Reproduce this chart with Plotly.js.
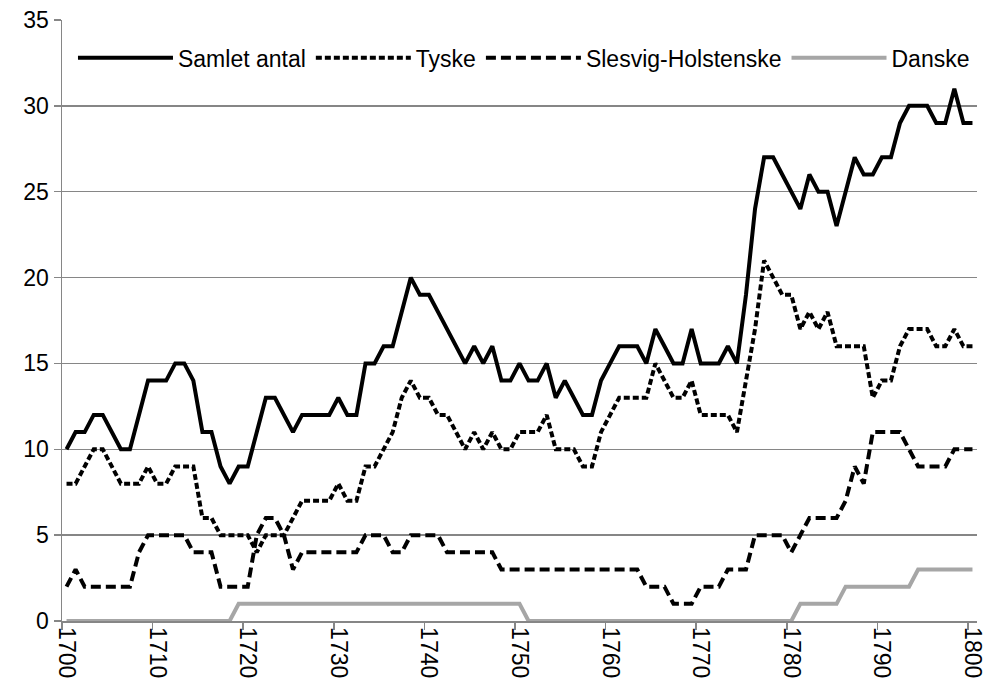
<!DOCTYPE html>
<html><head><meta charset="utf-8">
<script src="https://cdn.plot.ly/plotly-3.0.1.min.js"></script>
<style>html,body{margin:0;padding:0;background:#fff}#chart{width:988px;height:693px}</style>
</head><body><div id="chart"></div>
<script>
const years = ["1700","1701","1702","1703","1704","1705","1706","1707","1708","1709",
"1710","1711","1712","1713","1714","1715","1716","1717","1718","1719",
"1720","1721","1722","1723","1724","1725","1726","1727","1728","1729",
"1730","1731","1732","1733","1734","1735","1736","1737","1738","1739",
"1740","1741","1742","1743","1744","1745","1746","1747","1748","1749",
"1750","1751","1752","1753","1754","1755","1756","1757","1758","1759",
"1760","1761","1762","1763","1764","1765","1766","1767","1768","1769",
"1770","1771","1772","1773","1774","1775","1776","1777","1778","1779",
"1780","1781","1782","1783","1784","1785","1786","1787","1788","1789",
"1790","1791","1792","1793","1794","1795","1796","1797","1798","1799","1800"];

const samlet = [10,11,11,12,12,11,10,10,12,14,
14,14,15,15,14,11,11,9,8,9,
9,11,13,13,12,11,12,12,12,12,
13,12,12,15,15,16,16,18,20,19,
19,18,17,16,15,16,15,16,14,14,
15,14,14,15,13,14,13,12,12,14,
15,16,16,16,15,17,16,15,15,17,
15,15,15,16,15,19,24,27,27,26,
25,24,26,25,25,23,25,27,26,26,
27,27,29,30,30,30,29,29,31,29,29];

const tyske = [8,8,9,10,10,9,8,8,8,9,
8,8,9,9,9,6,6,5,5,5,
5,4,5,5,5,6,7,7,7,7,
8,7,7,9,9,10,11,13,14,13,
13,12,12,11,10,11,10,11,10,10,
11,11,11,12,10,10,10,9,9,11,
12,13,13,13,13,15,14,13,13,14,
12,12,12,12,11,14,17,21,20,19,
19,17,18,17,18,16,16,16,16,13,
14,14,16,17,17,17,16,16,17,16,16];

const slesvig = [2,3,2,2,2,2,2,2,4,5,
5,5,5,5,4,4,4,2,2,2,
2,5,6,6,5,3,4,4,4,4,
4,4,4,5,5,5,4,4,5,5,
5,5,4,4,4,4,4,4,3,3,
3,3,3,3,3,3,3,3,3,3,
3,3,3,3,2,2,2,1,1,1,
2,2,2,3,3,3,5,5,5,5,
4,5,6,6,6,6,7,9,8,11,
11,11,11,10,9,9,9,9,10,10,10];

const danske = [0,0,0,0,0,0,0,0,0,0,
0,0,0,0,0,0,0,0,0,1,
1,1,1,1,1,1,1,1,1,1,
1,1,1,1,1,1,1,1,1,1,
1,1,1,1,1,1,1,1,1,1,
1,0,0,0,0,0,0,0,0,0,
0,0,0,0,0,0,0,0,0,0,
0,0,0,0,0,0,0,0,0,0,
0,1,1,1,1,1,2,2,2,2,
2,2,2,2,3,3,3,3,3,3,3];

const seriesNames = ["Samlet antal","Tyske","Slesvig-Holstenske","Danske"];

const FONT = "Liberation Sans, Arial, sans-serif";
const GRID = "#868686";

const traces = [
  {x: years, y: samlet, name: seriesNames[0], type: "scatter", mode: "lines",
   line: {color: "#000000", width: 4}},
  {x: years, y: tyske, name: seriesNames[1], type: "scatter", mode: "lines",
   line: {color: "#000000", width: 4, dash: "6px,3px"}},
  {x: years, y: slesvig, name: seriesNames[2], type: "scatter", mode: "lines",
   line: {color: "#000000", width: 4, dash: "10px,5px"}},
  {x: years, y: danske, name: seriesNames[3], type: "scatter", mode: "lines",
   line: {color: "#a6a6a6", width: 4}}
];

const layout = {
  width: 988, height: 693,
  margin: {l: 62, r: 11, t: 20, b: 72},
  paper_bgcolor: "#ffffff", plot_bgcolor: "#ffffff",
  font: {family: FONT, size: 23, color: "#000000"},
  showlegend: true,
  legend: {orientation: "h", x: 0.012, xanchor: "left", y: 0.937, yanchor: "middle",
           bgcolor: "rgba(0,0,0,0)", font: {family: FONT, size: 23, color: "#000"},
           itemwidth: 95, traceorder: "normal"},
  xaxis: {type: "category", tickmode: "linear", tick0: 0, dtick: 10, tickson: "boundaries",
          range: [-0.5, 100.5], ticks: "outside", ticklen: 7, tickwidth: 1.5, tickcolor: GRID,
          showline: true, linecolor: GRID, linewidth: 1.5, showgrid: false, zeroline: false,
          tickangle: 90, tickfont: {family: FONT, size: 23, color: "#000"}, fixedrange: true},
  yaxis: {range: [0, 35], tick0: 0, dtick: 5, ticks: "outside", ticklen: 7, tickwidth: 1.5,
          tickcolor: GRID, showline: true, linecolor: GRID, linewidth: 1.5,
          showgrid: true, gridcolor: GRID, gridwidth: 1.5, zeroline: false,
          tickfont: {family: FONT, size: 23, color: "#000"}, fixedrange: true}
};

Plotly.newPlot("chart", traces, layout, {displayModeBar: false, staticPlot: true});
</script>
</body></html>
